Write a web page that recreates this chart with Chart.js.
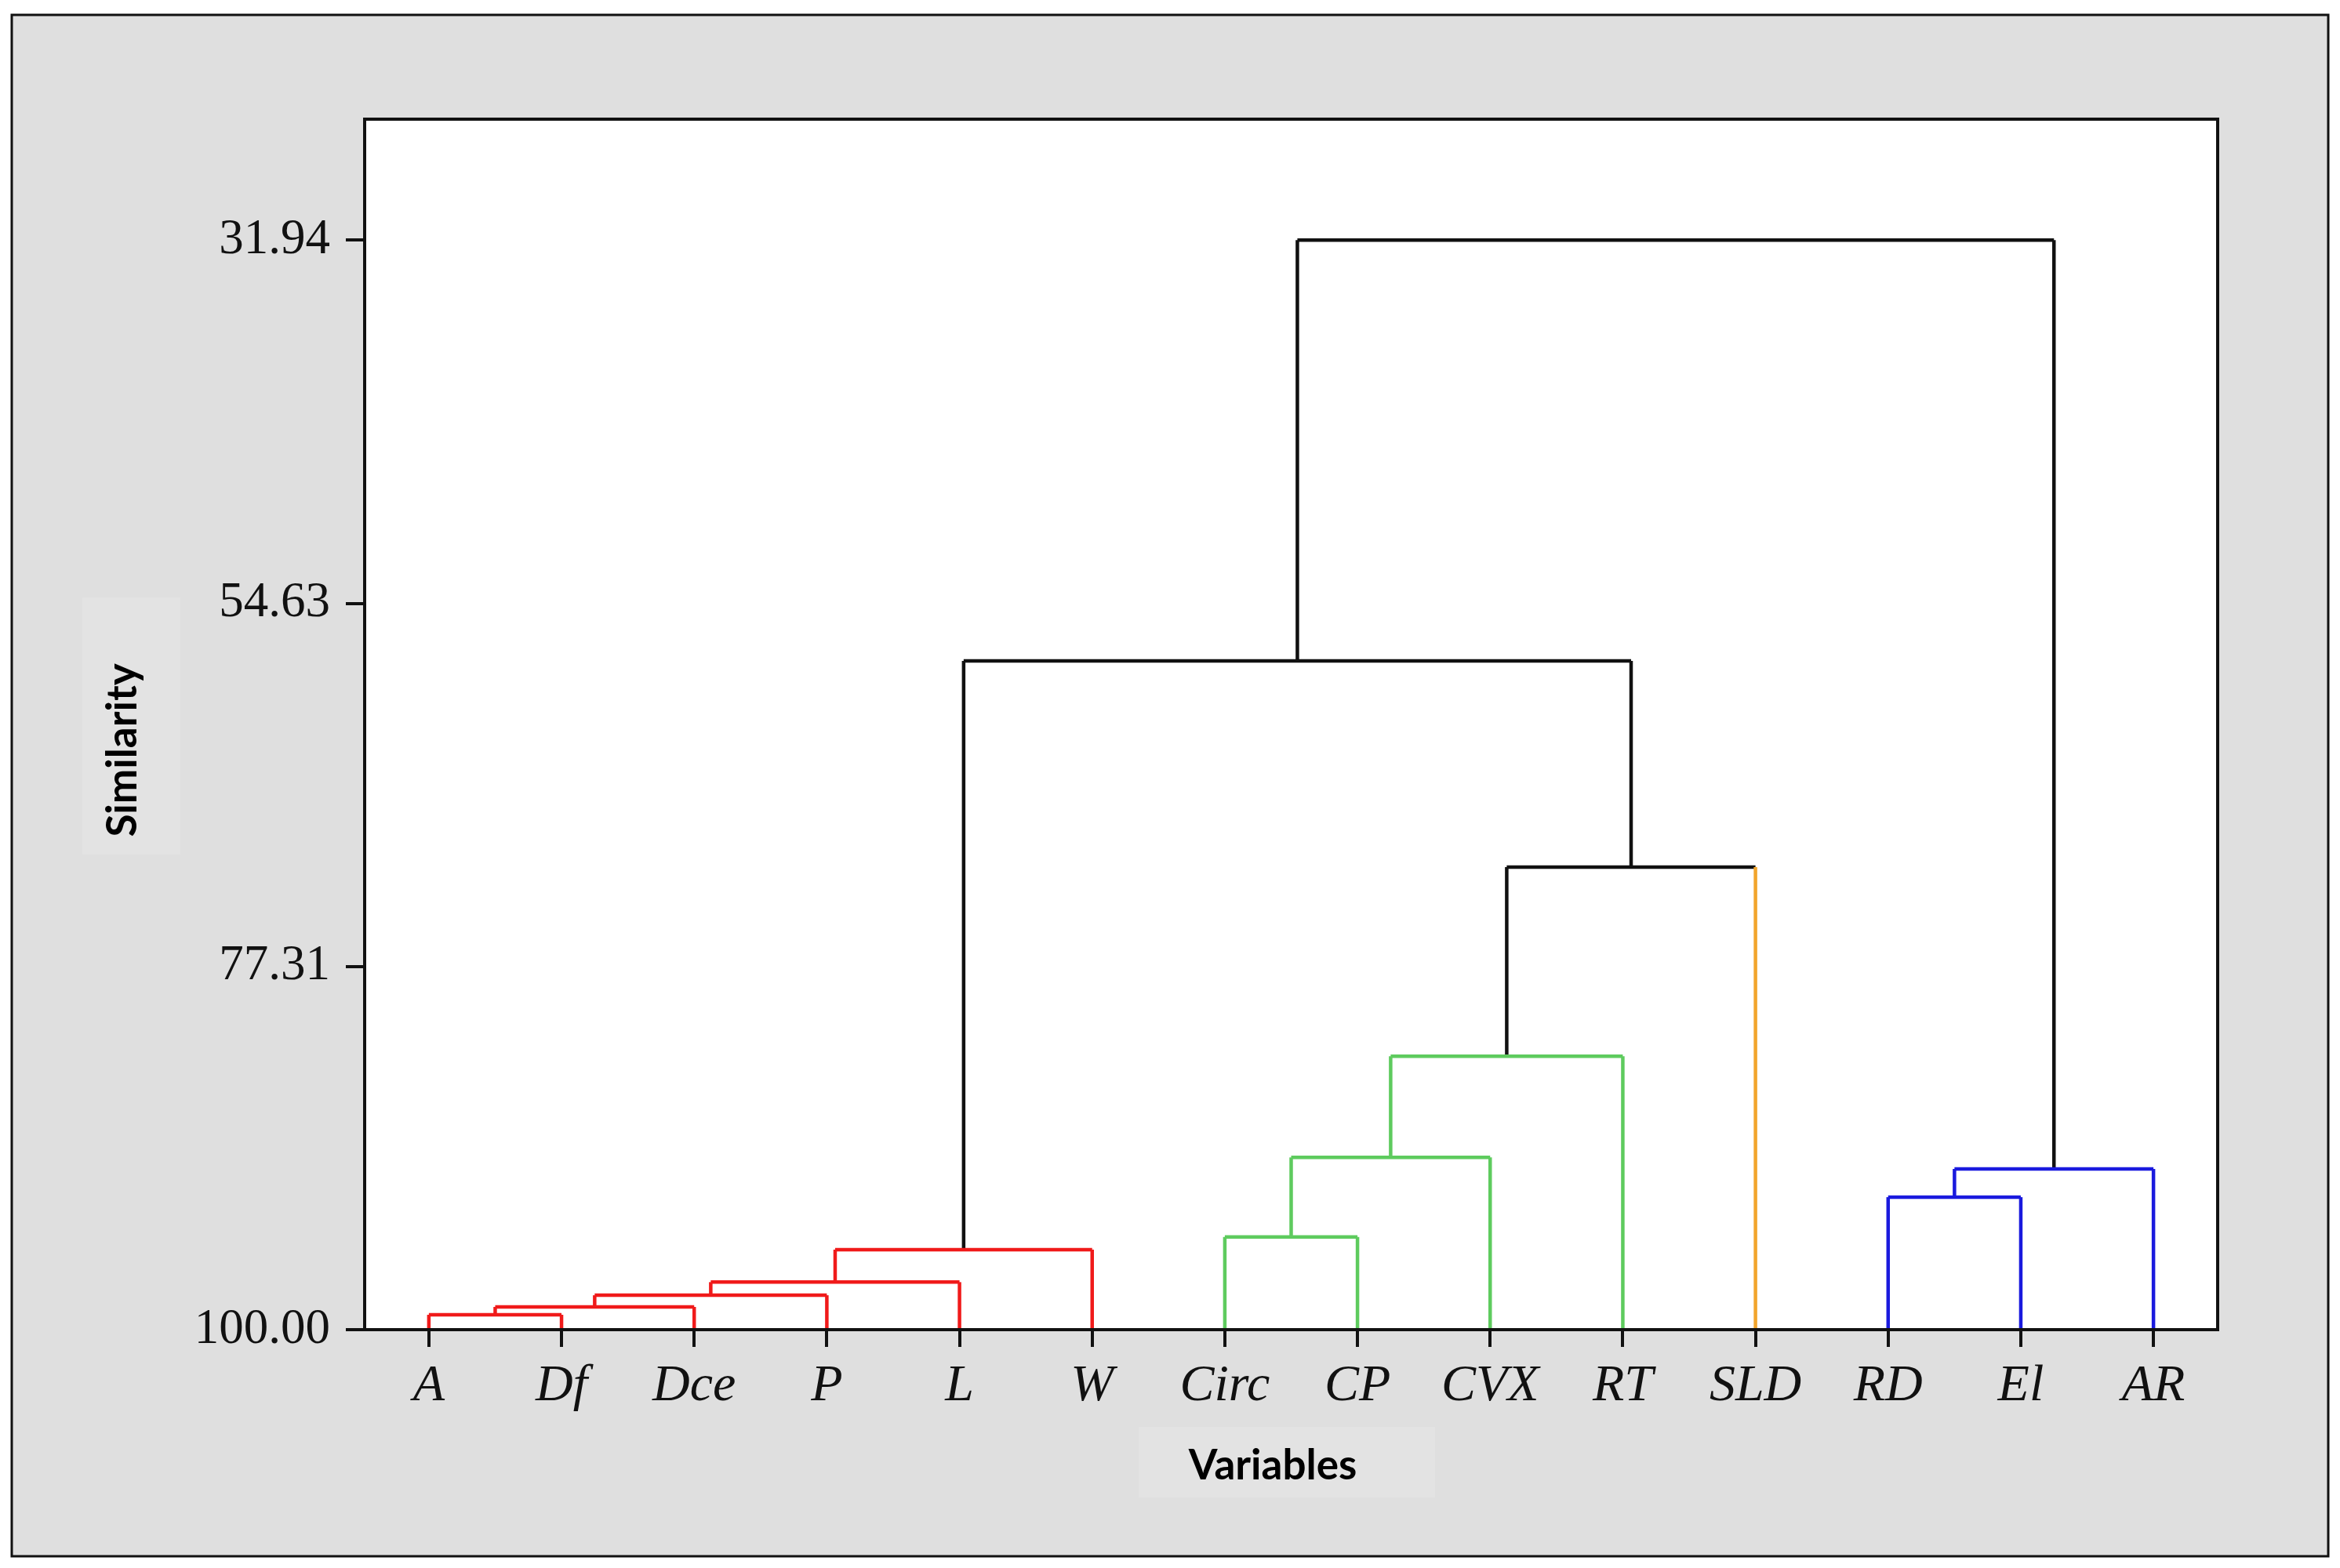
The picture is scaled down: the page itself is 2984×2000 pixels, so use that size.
<!DOCTYPE html>
<html>
<head>
<meta charset="utf-8">
<title>Dendrogram - Similarity of variables</title>
<script src="https://cdn.jsdelivr.net/npm/chart.js@4.4.1/dist/chart.umd.min.js"></script>
<style>
  body { margin: 0; padding: 0; background: #ffffff; }
  #chart { display: block; }
</style>
</head>
<body>
<canvas id="chart" width="2984" height="2000"></canvas>
<script>
// Leaves, in the order they appear along the x axis
const variables = ['A', 'Df', 'Dce', 'P', 'L', 'W', 'Circ', 'CP', 'CVX', 'RT', 'SLD', 'RD', 'El', 'AR'];

// Cluster each leaf belongs to (used for colouring)
const leafCluster = [0, 0, 0, 0, 0, 0, 1, 1, 1, 1, 2, 3, 3, 3];

// Merge steps: nodes 0..13 are leaves, merge k creates node 14 + k
const mergeLeft = [0, 14, 15, 16, 17, 6, 11, 20, 19, 22, 23, 18, 25];
const mergeRight = [1, 2, 3, 4, 5, 7, 12, 13, 8, 9, 10, 24, 21];
const mergeSimilarity = [99.07, 98.58, 97.85, 97.03, 95.00, 94.21, 91.72, 89.96, 89.24, 82.92, 71.10, 58.22, 31.94];

// Tick values on the similarity axis
const similarityTicks = [31.94, 54.63, 77.31, 100.00];
const similarityTop = 24.38;

const clusterColors = ['#f01a1a', '#5ecb5e', '#f2a52c', '#1a1ade'];
const linkColor = '#111111';

// Work out position, height and colour of every node
const nodeX = variables.map((v, i) => i);
const nodeY = variables.map(() => 100);
const nodeCluster = leafCluster.slice();
mergeLeft.forEach((l, k) => {
  const r = mergeRight[k];
  nodeX.push((nodeX[l] + nodeX[r]) / 2);
  nodeY.push(mergeSimilarity[k]);
  nodeCluster.push(nodeCluster[l] === nodeCluster[r] ? nodeCluster[l] : -1);
});

const datasets = [];
function addSegment(points, color) {
  datasets.push({
    data: points,
    borderColor: color,
    borderWidth: 4.5,
    pointRadius: 0,
    showLine: true,
    fill: false,
    tension: 0
  });
}
mergeLeft.forEach((l, k) => {
  const r = mergeRight[k];
  const node = variables.length + k;
  const h = mergeSimilarity[k];
  const c = nodeCluster[node] >= 0 ? clusterColors[nodeCluster[node]] : linkColor;
  // leaf legs keep the leaf colour, inner legs take the parent colour
  const legColor = child => child < variables.length ? clusterColors[leafCluster[child]] : c;
  addSegment([{ x: nodeX[l], y: nodeY[l] }, { x: nodeX[l], y: h }], legColor(l));
  addSegment([{ x: nodeX[r], y: nodeY[r] }, { x: nodeX[r], y: h }], legColor(r));
  addSegment([{ x: nodeX[l], y: h }, { x: nodeX[r], y: h }], c);
});

// Background frame, plot box and axis titles
const framePlugin = {
  id: 'frame',
  beforeDraw(chart) {
    const ctx = chart.ctx;
    const a = chart.chartArea;
    ctx.save();
    ctx.fillStyle = '#ffffff';
    ctx.fillRect(0, 0, chart.width, chart.height);
    ctx.fillStyle = '#dfdfdf';
    ctx.fillRect(15, 19, 2954, 1966);
    ctx.strokeStyle = '#111111';
    ctx.lineWidth = 3;
    ctx.strokeRect(15, 19, 2954, 1966);
    // faint boxes behind the axis titles
    ctx.fillStyle = '#e3e3e3';
    ctx.fillRect(105, 762, 125, 328);
    ctx.fillRect(1452, 1820, 378, 90);
    ctx.fillStyle = '#ffffff';
    ctx.fillRect(a.left, a.top, a.right - a.left, a.bottom - a.top);
    ctx.restore();
  },
  afterDraw(chart) {
    const ctx = chart.ctx;
    const a = chart.chartArea;
    ctx.save();
    ctx.strokeStyle = '#111111';
    ctx.lineWidth = 4;
    ctx.strokeRect(a.left, a.top, a.right - a.left, a.bottom - a.top);
    ctx.fillStyle = '#000000';
    ctx.font = 'bold 53px Lato';
    ctx.textAlign = 'center';
    ctx.textBaseline = 'middle';
    ctx.fillText('Variables', 1623, 1870);
    ctx.translate(157, 957);
    ctx.rotate(-Math.PI / 2);
    ctx.fillText('Similarity', 0, 0);
    ctx.restore();
  }
};

new Chart(document.getElementById('chart').getContext('2d'), {
  type: 'scatter',
  data: { datasets: datasets },
  options: {
    responsive: false,
    devicePixelRatio: 1,
    animation: false,
    events: [],
    layout: { padding: { top: 152, right: 156, left: 0, bottom: 0 } },
    plugins: {
      legend: { display: false },
      tooltip: { enabled: false }
    },
    scales: {
      x: {
        type: 'linear',
        min: -0.484,
        max: variables.length - 1 + 0.484,
        afterFit(scale) { scale.height = 304; },
        afterBuildTicks(scale) {
          scale.ticks = variables.map((v, i) => ({ value: i }));
        },
        ticks: {
          autoSkip: false,
          maxRotation: 0,
          padding: 11,
          color: '#111111',
          font: { family: 'Liberation Serif', style: 'italic', size: 66 },
          callback: value => variables[value]
        },
        grid: {
          drawOnChartArea: false,
          drawTicks: true,
          tickLength: 22,
          color: '#111111',
          lineWidth: 4
        },
        border: { display: false }
      },
      y: {
        type: 'linear',
        reverse: true,
        min: similarityTop,
        max: 100,
        afterFit(scale) { scale.width = 465; },
        afterBuildTicks(scale) {
          scale.ticks = similarityTicks.map(v => ({ value: v }));
        },
        ticks: {
          padding: 20,
          color: '#111111',
          font: { family: 'Liberation Serif', size: 63 },
          callback: value => value.toFixed(2)
        },
        grid: {
          drawOnChartArea: false,
          drawTicks: true,
          tickLength: 24,
          color: '#111111',
          lineWidth: 4
        },
        border: { display: false }
      }
    }
  },
  plugins: [framePlugin]
});
</script>
</body>
</html>
